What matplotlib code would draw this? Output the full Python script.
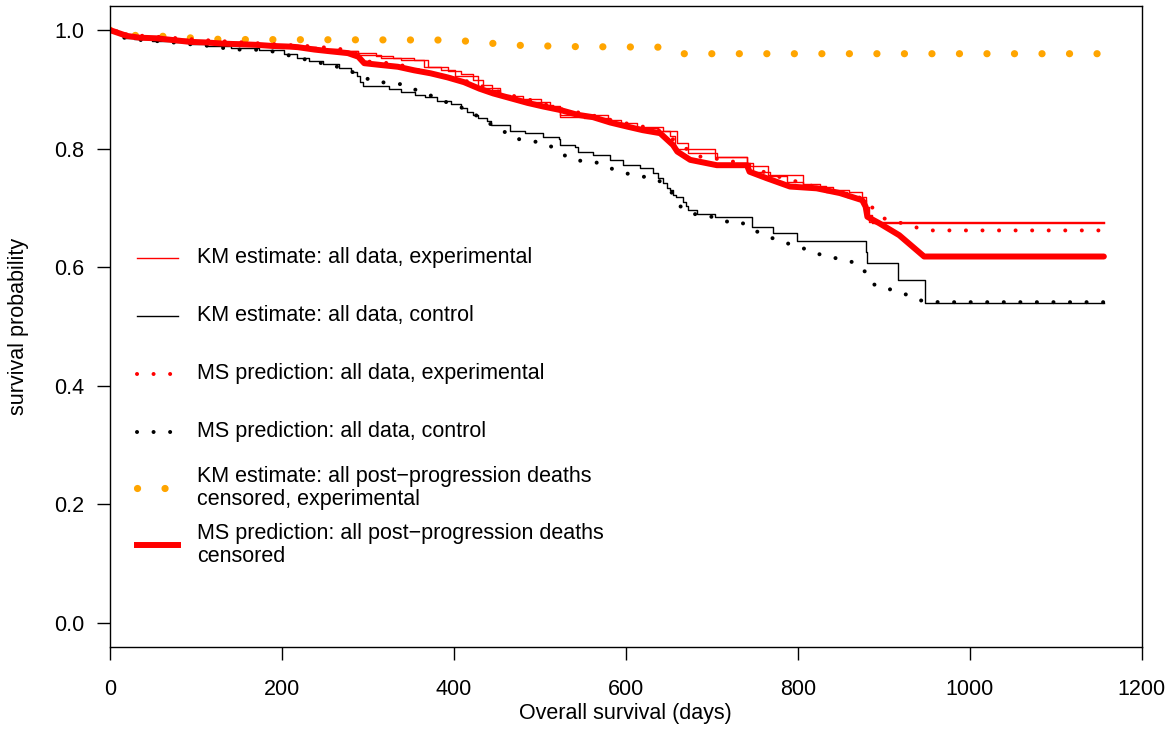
import matplotlib
matplotlib.use("Agg")
import matplotlib.pyplot as plt

plt.rcParams['font.family'] = ['Liberation Sans', 'DejaVu Sans']

# KM estimate, all data, control (step function)
km_ctrl_t = [0, 8, 17, 28, 49, 72, 95, 112, 141, 174, 203, 218, 232, 248, 267, 281, 288, 291, 294,
             325, 339, 355, 367, 381, 397, 408, 415, 422, 428, 439, 443, 466, 483, 504, 522, 524,
             541, 544, 562, 582, 597, 617, 632, 637, 643, 648, 652, 655, 659, 667, 670, 672, 683,
             704, 747, 771, 799, 880, 881, 917, 948, 1156]
km_ctrl_s = [1.0, 0.995, 0.987, 0.984, 0.982, 0.980, 0.976, 0.973, 0.969, 0.966, 0.960, 0.952, 0.947,
             0.942, 0.936, 0.929, 0.922, 0.912, 0.905, 0.900, 0.896, 0.890, 0.887, 0.880, 0.875, 0.868,
             0.862, 0.857, 0.852, 0.847, 0.840, 0.829, 0.826, 0.820, 0.817, 0.806, 0.803, 0.795, 0.789,
             0.781, 0.772, 0.767, 0.758, 0.750, 0.742, 0.733, 0.730, 0.722, 0.718, 0.710, 0.703, 0.697,
             0.690, 0.684, 0.667, 0.657, 0.644, 0.626, 0.607, 0.578, 0.539, 0.539]

# KM estimate, all data, experimental (two close step curves)
km_exp_t = [0, 8, 20, 35, 60, 90, 120, 150, 180, 210, 240, 265, 289, 310, 330, 354, 370, 393, 408,
            423, 434, 445, 454, 466, 501, 515, 524, 579, 594, 605, 643, 652, 657, 704, 741, 744, 765,
            806, 826, 841, 860, 875, 880, 883, 886, 1156]
km_exp_s = [1.0, 0.995, 0.990, 0.987, 0.985, 0.982, 0.979, 0.977, 0.975, 0.972, 0.968, 0.965, 0.961,
            0.956, 0.952, 0.949, 0.938, 0.930, 0.925, 0.916, 0.907, 0.898, 0.890, 0.884, 0.873, 0.866,
            0.857, 0.848, 0.840, 0.837, 0.829, 0.822, 0.800, 0.786, 0.776, 0.770, 0.756, 0.741, 0.736,
            0.731, 0.727, 0.719, 0.702, 0.688, 0.675, 0.675]
km_exp2_t = [0, 8, 20, 35, 60, 90, 120, 150, 180, 210, 240, 265, 289, 315, 339, 365, 385, 402, 428,
             454, 481, 512, 524, 551, 582, 613, 637, 660, 672, 706, 741, 748, 768, 787, 806, 833, 857,
             874, 880, 883, 1156]
km_exp2_s = [1.0, 0.995, 0.990, 0.987, 0.985, 0.982, 0.979, 0.977, 0.975, 0.972, 0.968, 0.965, 0.958,
             0.952, 0.949, 0.938, 0.933, 0.922, 0.902, 0.888, 0.879, 0.871, 0.854, 0.851, 0.843, 0.834,
             0.829, 0.809, 0.792, 0.786, 0.776, 0.761, 0.753, 0.744, 0.737, 0.727, 0.719, 0.713, 0.685,
             0.676, 0.676]

# MS prediction, all data, control
ms_ctrl_t = [0, 17, 37, 57, 74, 93, 111, 130, 148, 167, 186, 203, 221, 238, 256, 273, 290, 306, 324,
             342, 359, 376, 392, 408, 424, 439, 455, 468, 487, 504, 521, 533, 552, 569, 587, 604, 623,
             638, 654, 664, 678, 698, 713, 733, 747, 763, 780, 799, 815, 830, 849, 868, 880, 890, 909,
             928, 945, 964, 1156]
ms_ctrl_s = [1.0, 0.987, 0.983, 0.981, 0.979, 0.976, 0.974, 0.970, 0.967, 0.967, 0.965, 0.959, 0.953,
             0.946, 0.942, 0.934, 0.925, 0.913, 0.911, 0.908, 0.897, 0.888, 0.878, 0.870, 0.858, 0.844,
             0.833, 0.818, 0.813, 0.810, 0.798, 0.784, 0.778, 0.776, 0.764, 0.757, 0.752, 0.747, 0.725,
             0.702, 0.690, 0.686, 0.677, 0.677, 0.664, 0.653, 0.644, 0.635, 0.628, 0.619, 0.614, 0.607,
             0.590, 0.569, 0.562, 0.553, 0.543, 0.541, 0.541]

# MS prediction, all data, experimental
ms_exp_t = [0, 20, 60, 120, 180, 240, 280, 289, 298, 318, 336, 354, 371, 392, 420, 443, 466, 489, 526,
            559, 588, 617, 640, 663, 682, 700, 718, 736, 751, 769, 787, 805, 838, 857, 875, 901, 919,
            938, 957, 1156]
ms_exp_s = [1.0, 0.992, 0.988, 0.982, 0.977, 0.972, 0.966, 0.958, 0.947, 0.945, 0.942, 0.934, 0.928,
            0.921, 0.912, 0.900, 0.890, 0.882, 0.866, 0.857, 0.846, 0.838, 0.830, 0.808, 0.787, 0.785,
            0.778, 0.778, 0.766, 0.756, 0.749, 0.742, 0.728, 0.724, 0.716, 0.682, 0.675, 0.667, 0.662,
            0.662]

# KM estimate, post-progression deaths censored, experimental
km_cens_t = [0, 6, 70, 101, 132, 400, 440, 478, 540, 640, 662, 1156]
km_cens_s = [1.0, 0.992, 0.989, 0.986, 0.984, 0.983, 0.978, 0.974, 0.972, 0.971, 0.960, 0.960]

# MS prediction, post-progression deaths censored
ms_cens_t = [0, 8, 20, 35, 54, 74, 93, 112, 132, 151, 170, 190, 209, 219, 238, 257, 277, 289, 296,
             315, 335, 354, 373, 393, 412, 430, 446, 466, 486, 504, 524, 544, 562, 582, 602, 620, 640,
             655, 660, 675, 706, 741, 744, 764, 791, 822, 849, 875, 879, 881, 895, 918, 947, 1156]
ms_cens_s = [1.0, 0.996, 0.990, 0.987, 0.986, 0.983, 0.980, 0.979, 0.977, 0.976, 0.975, 0.973, 0.972,
             0.971, 0.967, 0.964, 0.961, 0.955, 0.944, 0.941, 0.938, 0.932, 0.927, 0.920, 0.912, 0.901,
             0.893, 0.885, 0.877, 0.871, 0.865, 0.857, 0.853, 0.844, 0.837, 0.831, 0.826, 0.806, 0.795,
             0.781, 0.772, 0.772, 0.761, 0.750, 0.736, 0.733, 0.725, 0.713, 0.702, 0.685, 0.674, 0.654,
             0.618, 0.618]

legend_labels = ["KM estimate: all data, experimental",
                 "KM estimate: all data, control",
                 "MS prediction: all data, experimental",
                 "MS prediction: all data, control",
                 "KM estimate: all post\u2212progression deaths\ncensored, experimental",
                 "MS prediction: all post\u2212progression deaths\ncensored"]

fig = plt.figure(figsize=(11.75, 7.51), dpi=100)
ax = fig.add_axes([0.09336, 0.13888, 0.97166 - 0.09336, 0.99165 - 0.13888])

dot_small = dict(linestyle=(0, (0.01, 4.1)), lw=2.9, dash_capstyle='round')
dot_big = dict(linestyle=(0, (0.01, 3.8)), lw=5.2, dash_capstyle='round')

ax.plot(km_cens_t, km_cens_s, color='#FFA500', **dot_big)
ax.step(km_exp_t, km_exp_s, where='post', color='red', lw=1.0)
ax.step(km_exp2_t, km_exp2_s, where='post', color='red', lw=1.0)
ax.step(km_ctrl_t, km_ctrl_s, where='post', color='black', lw=1.0)
ax.plot(ms_exp_t, ms_exp_s, color='red', **dot_small)
ax.plot(ms_ctrl_t, ms_ctrl_s, color='black', **dot_small)
ax.plot(ms_cens_t, ms_cens_s, color='red', lw=4.3, solid_capstyle='round', solid_joinstyle='round')

# legend drawn like R's legend(bty="n")
leg_y = [0.6157, 0.5179, 0.4202, 0.3224, 0.2281, 0.1320]
leg_styles = [dict(color='red', lw=1.0),
              dict(color='black', lw=1.0),
              dict(color='red', **dot_small),
              dict(color='black', **dot_small),
              dict(color='#FFA500', **dot_big),
              dict(color='red', lw=4.3)]
for yy, lab, st in zip(leg_y, legend_labels, leg_styles):
    ax.plot([31.7, 79.4], [yy, yy], **st)
    ax.text(101.5, yy, lab, fontsize=15.5, va='center', ha='left', linespacing=1.15)

ax.set_xlim(0, 1200)
ax.set_ylim(-0.04, 1.04)
ax.set_xticks([0, 200, 400, 600, 800, 1000, 1200])
ax.set_yticks([0.0, 0.2, 0.4, 0.6, 0.8, 1.0])
ax.set_yticklabels(['0.0', '0.2', '0.4', '0.6', '0.8', '1.0'])
ax.tick_params(direction='out', length=9.4, width=1.0, labelsize=15.5, pad=9)
ax.tick_params(axis='x', pad=14)
for sp in ax.spines.values():
    sp.set_linewidth(1.0)
ax.set_xlabel('Overall survival (days)', fontsize=15.5, labelpad=2)
ax.set_ylabel('survival probability', fontsize=15.5, labelpad=18)

fig.savefig('out.png', dpi=100)
